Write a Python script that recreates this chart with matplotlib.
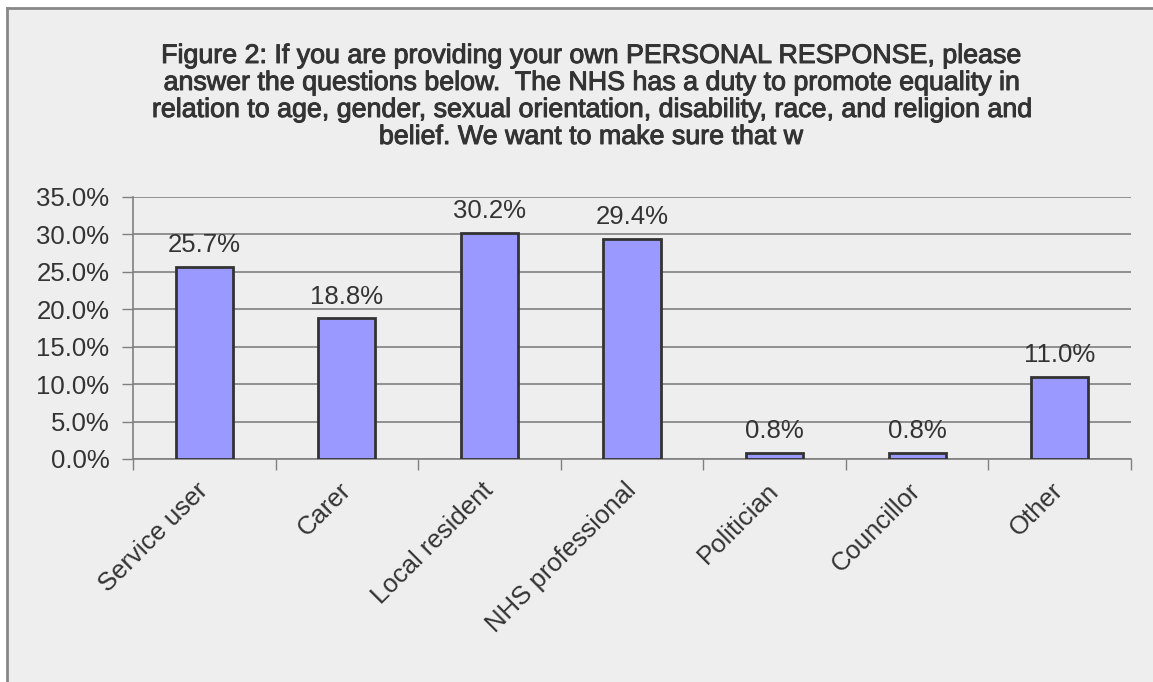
import matplotlib
matplotlib.use("Agg")
import matplotlib.pyplot as plt
import matplotlib.patheffects as pe
from matplotlib.patches import Rectangle
from matplotlib.ticker import FixedLocator, NullFormatter, PercentFormatter

categories = ["Service user", "Carer", "Local resident", "NHS professional",
              "Politician", "Councillor", "Other"]
percentages = [25.7, 18.8, 30.2, 29.4, 0.8, 0.8, 11.0]
y_ticks = [0, 5, 10, 15, 20, 25, 30, 35]

title = ("Figure 2: If you are providing your own PERSONAL RESPONSE, please\n"
         "answer the questions below.  The NHS has a duty to promote equality in\n"
         "relation to age, gender, sexual orientation, disability, race, and religion and\n"
         "belief. We want to make sure that w")

plt.rcParams["font.family"] = ["Liberation Sans", "DejaVu Sans"]
text_color = "#333333"
bg = "#eeeeee"
label_size = 18.5

fig = plt.figure(figsize=(11.53, 6.82), dpi=100, facecolor="white")
W, H = 1153, 682
# chart area panel with grey outline on top and left
fig.patches.append(Rectangle((7 / W, 0), 1, 1 - 8 / H, transform=fig.transFigure,
                             facecolor=bg, edgecolor="none", zorder=-10))
fig.lines.append(plt.Line2D([7 / W, 1], [1 - 8 / H, 1 - 8 / H], transform=fig.transFigure,
                            color="#888888", lw=2, zorder=-5))
fig.lines.append(plt.Line2D([7 / W, 7 / W], [0, 1 - 8 / H], transform=fig.transFigure,
                            color="#888888", lw=2, zorder=-5))

ax = fig.add_axes([133 / W, 1 - 459 / H, (1131 - 133) / W, (459 - 197) / H])
ax.set_facecolor(bg)

x = list(range(len(categories)))
bars = ax.bar(x, percentages, width=0.4, color="#9999ff", edgecolor="#333333",
              linewidth=2, zorder=3)
for xi, v in zip(x, percentages):
    ax.text(xi, v + 1.3, f"{v:.1f}%", ha="center", va="bottom", fontsize=label_size,
            color=text_color, zorder=4)

ax.set_xlim(-0.5, len(categories) - 0.5)
ax.set_ylim(0, 35)
ax.set_yticks(y_ticks)
ax.yaxis.set_major_formatter(PercentFormatter(decimals=1))
ax.yaxis.grid(True, color="#808080", linewidth=1.2, zorder=1)
ax.set_axisbelow(True)

ax.xaxis.set_major_locator(FixedLocator([i - 0.5 for i in range(len(categories) + 1)]))
ax.xaxis.set_major_formatter(NullFormatter())
ax.xaxis.set_minor_locator(FixedLocator(x))
ax.set_xticklabels(categories, minor=True, rotation=45, ha="right", va="center",
                   rotation_mode="anchor", fontsize=label_size, color=text_color)
ax.tick_params(axis="x", which="minor", length=0, pad=20)
ax.tick_params(axis="x", which="major", length=8, width=1, color="#808080")
ax.tick_params(axis="y", length=8, width=1, color="#808080", labelsize=label_size,
               labelcolor=text_color, pad=9)

for side in ["top", "right"]:
    ax.spines[side].set_visible(False)
for side in ["left", "bottom"]:
    ax.spines[side].set_color("#808080")
    ax.spines[side].set_linewidth(1.2)

fig.text(0.512, 1 - 43 / H, title, ha="center", va="top", fontsize=19.3,
         color=text_color, linespacing=1.05,
         path_effects=[pe.withStroke(linewidth=0.7, foreground=text_color)])

fig.savefig("out.png", dpi=100, facecolor="white")
